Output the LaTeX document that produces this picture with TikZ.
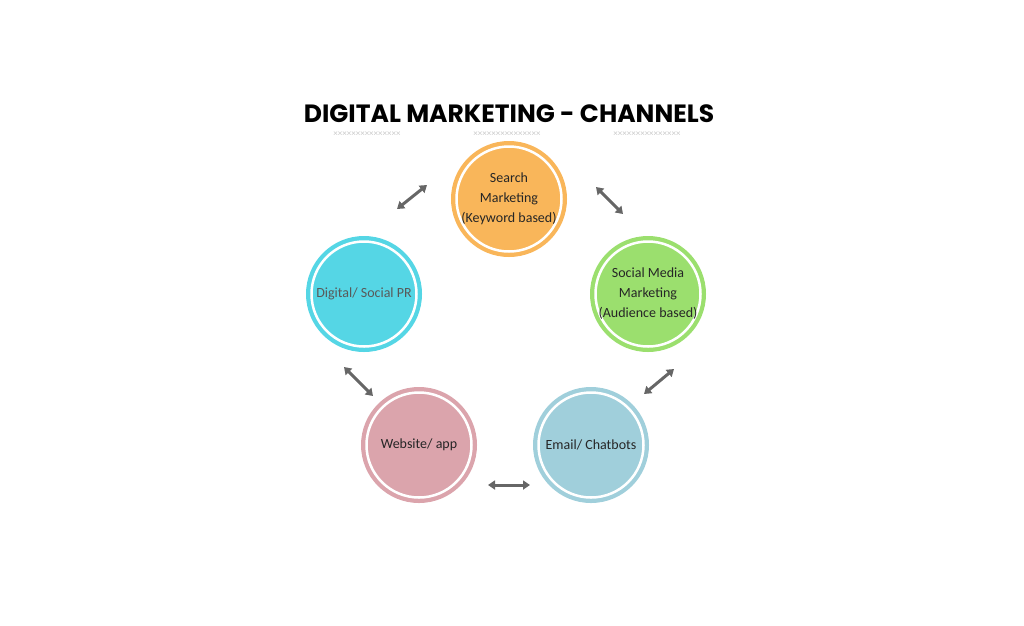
\documentclass[tikz,border=0pt]{standalone}
\usepackage{fontspec}
\setmainfont{Carlito}
\newfontfamily\titlefont{Poppins}
\usetikzlibrary{arrows.meta}
\definecolor{cOrange}{HTML}{F9B65A}
\definecolor{cGreen}{HTML}{9BDF6E}
\definecolor{cEmail}{HTML}{A0CFDB}
\definecolor{cPink}{HTML}{DBA4AC}
\definecolor{cCyan}{HTML}{55D6E5}
\definecolor{cArrow}{HTML}{666666}
\tikzset{
  channel/.style={circle, fill=#1, minimum size=116pt, inner sep=0pt, align=center,
    font=\fontsize{14}{20}\selectfont, text=black!85,
    path picture={\draw[white, line width=2.5pt] (path picture bounding box.center) circle (52.5pt);}},
  dbl/.style={cArrow, line width=3pt, {Triangle[length=7pt,width=9pt]}-{Triangle[length=7pt,width=9pt]}},
  marks/.style={text=black!22, font=\fontsize{9}{9}\selectfont}
}
\begin{document}
\begin{tikzpicture}[x=1pt,y=-1pt]
\useasboundingbox (0,0) rectangle (1024,625);
\node (title) at (509,114) {\titlefont\bfseries\fontsize{25}{25}\selectfont DIGITAL MARKETING - CHANNELS};
\node[marks] (m1) at (367,134) {×××××××××××××××};
\node[marks] (m2) at (507,134) {×××××××××××××××};
\node[marks] (m3) at (647,134) {×××××××××××××××};
\node[channel=cOrange] (search) at (509,199) {Search\\Marketing\\(Keyword based)};
\node[channel=cGreen] (social) at (648,294) {Social Media\\Marketing\\(Audience based)};
\node[channel=cEmail] (email) at (591,445) {Email/ Chatbots};
\node[channel=cPink] (web) at (419,445) {Website/ app};
\node[channel=cCyan, text=black!65] (pr) at (364,294) {Digital/ Social PR};
% arrow ends
\coordinate (a1) at (397,209); \coordinate (a2) at (427,185);
\coordinate (b1) at (596,187); \coordinate (b2) at (623,214);
\coordinate (c1) at (644,394); \coordinate (c2) at (674,369);
\coordinate (d1) at (488,485); \coordinate (d2) at (530,485);
\coordinate (e1) at (344,367); \coordinate (e2) at (373,396);
\draw[dbl] (a1) -- (a2);
\draw[dbl] (b1) -- (b2);
\draw[dbl] (c1) -- (c2);
\draw[dbl] (d1) -- (d2);
\draw[dbl] (e1) -- (e2);
\end{tikzpicture}
\end{document}
